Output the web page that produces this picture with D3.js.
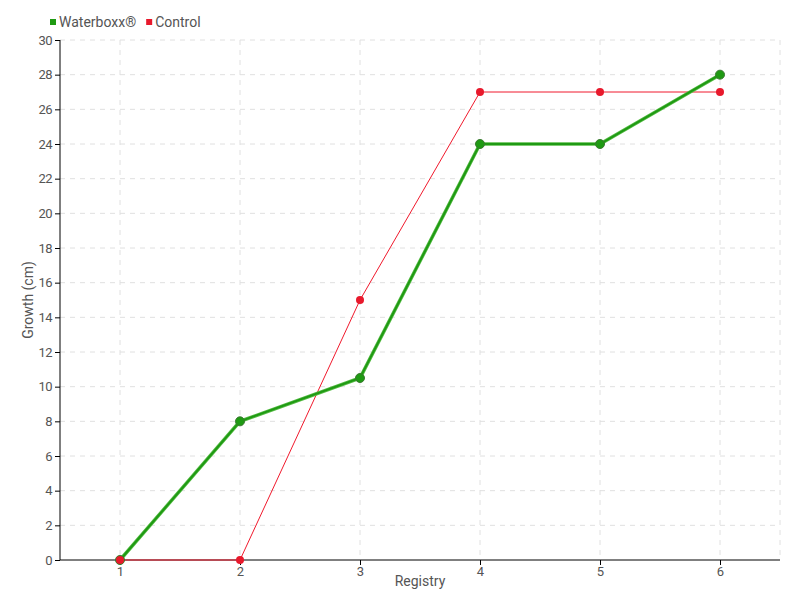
<!DOCTYPE html>
<html><head><meta charset="utf-8">
<script src="https://cdn.jsdelivr.net/npm/d3@7"></script>
<style>body{margin:0;background:#fff}svg{display:block}text{font-family:Roboto,"DejaVu Sans",sans-serif;}</style>
</head><body><svg id="c" width="800" height="600"></svg>
<script>
const categories = ["1","2","3","4","5","6"];
const waterboxx = [0, 8, 10.5, 24, 24, 28];
const control = [0, 0, 15, 27, 27, 27];
const yTicks = [0,2,4,6,8,10,12,14,16,18,20,22,24,26,28,30];
const seriesNames = ["Waterboxx®", "Control"];

const svg = d3.select("#c");
const m = {l:60, r:20, t:40, b:40};
const W = 800, H = 600;
const x = d3.scalePoint().domain(categories).range([m.l, W-m.r]).padding(0.5);
const y = d3.scaleLinear().domain([0,30]).range([H-m.b, m.t]);

// grid
const g = svg.append("g");
g.selectAll(".hg").data(yTicks.filter(d=>d>0)).join("line")
  .attr("x1", m.l).attr("x2", W-m.r).attr("y1", d=>y(d)).attr("y2", d=>y(d))
  .attr("stroke", "#e0e0e0").attr("stroke-dasharray", "5,5");
g.selectAll(".vg").data(categories).join("line")
  .attr("x1", d=>x(d)).attr("x2", d=>x(d)).attr("y1", m.t).attr("y2", H-m.b)
  .attr("stroke", "#e0e0e0").attr("stroke-dasharray", "5,5");
g.append("line").attr("x1", W-m.r).attr("x2", W-m.r).attr("y1", m.t).attr("y2", H-m.b)
  .attr("stroke", "#e0e0e0").attr("stroke-dasharray", "5,5");

// axes
const ya = svg.append("g").attr("transform", `translate(${m.l},0)`)
  .call(d3.axisLeft(y).tickValues(yTicks).tickSize(5).tickPadding(3));
const xa = svg.append("g").attr("transform", `translate(0,${H-m.b})`)
  .call(d3.axisBottom(x).tickSize(5).tickPadding(2));
[ya, xa].forEach(a => {
  a.selectAll(".tick line").attr("stroke", "#000");
  a.selectAll(".tick text").attr("fill", "#555").style("font-size", "13px");
});
ya.selectAll(".tick text").attr("letter-spacing", "-0.5");
ya.select(".domain").remove();
xa.select(".domain").remove();
svg.append("line").attr("x1", m.l).attr("x2", m.l).attr("y1", m.t).attr("y2", H-m.b).attr("stroke", "#000");
svg.append("line").attr("x1", m.l).attr("x2", W-m.r).attr("y1", H-m.b).attr("y2", H-m.b).attr("stroke", "#000");

// titles
svg.append("text").attr("transform", `translate(33,${(m.t+H-m.b)/2}) rotate(-90)`)
  .attr("text-anchor", "middle").attr("fill", "#555").style("font-size", "14px").text("Growth (cm)");
svg.append("text").attr("x", (m.l+W-m.r)/2).attr("y", 586)
  .attr("text-anchor", "middle").attr("fill", "#555").style("font-size", "14px").text("Registry");

const line = d3.line().x((d,i)=>x(categories[i])).y(d=>y(d));
// control
svg.append("path").datum(control).attr("d", line).attr("fill", "none")
  .attr("stroke", "#f0192c").attr("stroke-width", 1);
// waterboxx
svg.append("path").datum(waterboxx).attr("d", line).attr("fill", "none")
  .attr("stroke", "#55bb44").attr("stroke-width", 3.5);
svg.append("path").datum(waterboxx).attr("d", line).attr("fill", "none")
  .attr("stroke", "#1f9a13").attr("stroke-width", 2);
svg.selectAll(".wp").data(waterboxx).join("circle")
  .attr("cx", (d,i)=>x(categories[i])).attr("cy", d=>y(d)).attr("r", 4.5)
  .attr("fill", "#1f9a13").attr("stroke", "#3a7a30").attr("stroke-width", 1);
svg.selectAll(".cp").data(control).join("circle")
  .attr("cx", (d,i)=>x(categories[i])).attr("cy", d=>y(d)).attr("r", 4)
  .attr("fill", "#e8192c");

// legend
const colors = ["#1f9a13", "#e8192c"];
const lg = svg.append("g");
let lx = 50;
seriesNames.forEach((n, i) => {
  lg.append("rect").attr("x", lx).attr("y", 19).attr("width", 6).attr("height", 6).attr("fill", colors[i]);
  const t = lg.append("text").attr("x", lx+9).attr("y", 27).attr("fill", "#555").style("font-size", "14px").text(n);
  lx += 9 + t.node().getComputedTextLength() + 10;
});
</script></body></html>
